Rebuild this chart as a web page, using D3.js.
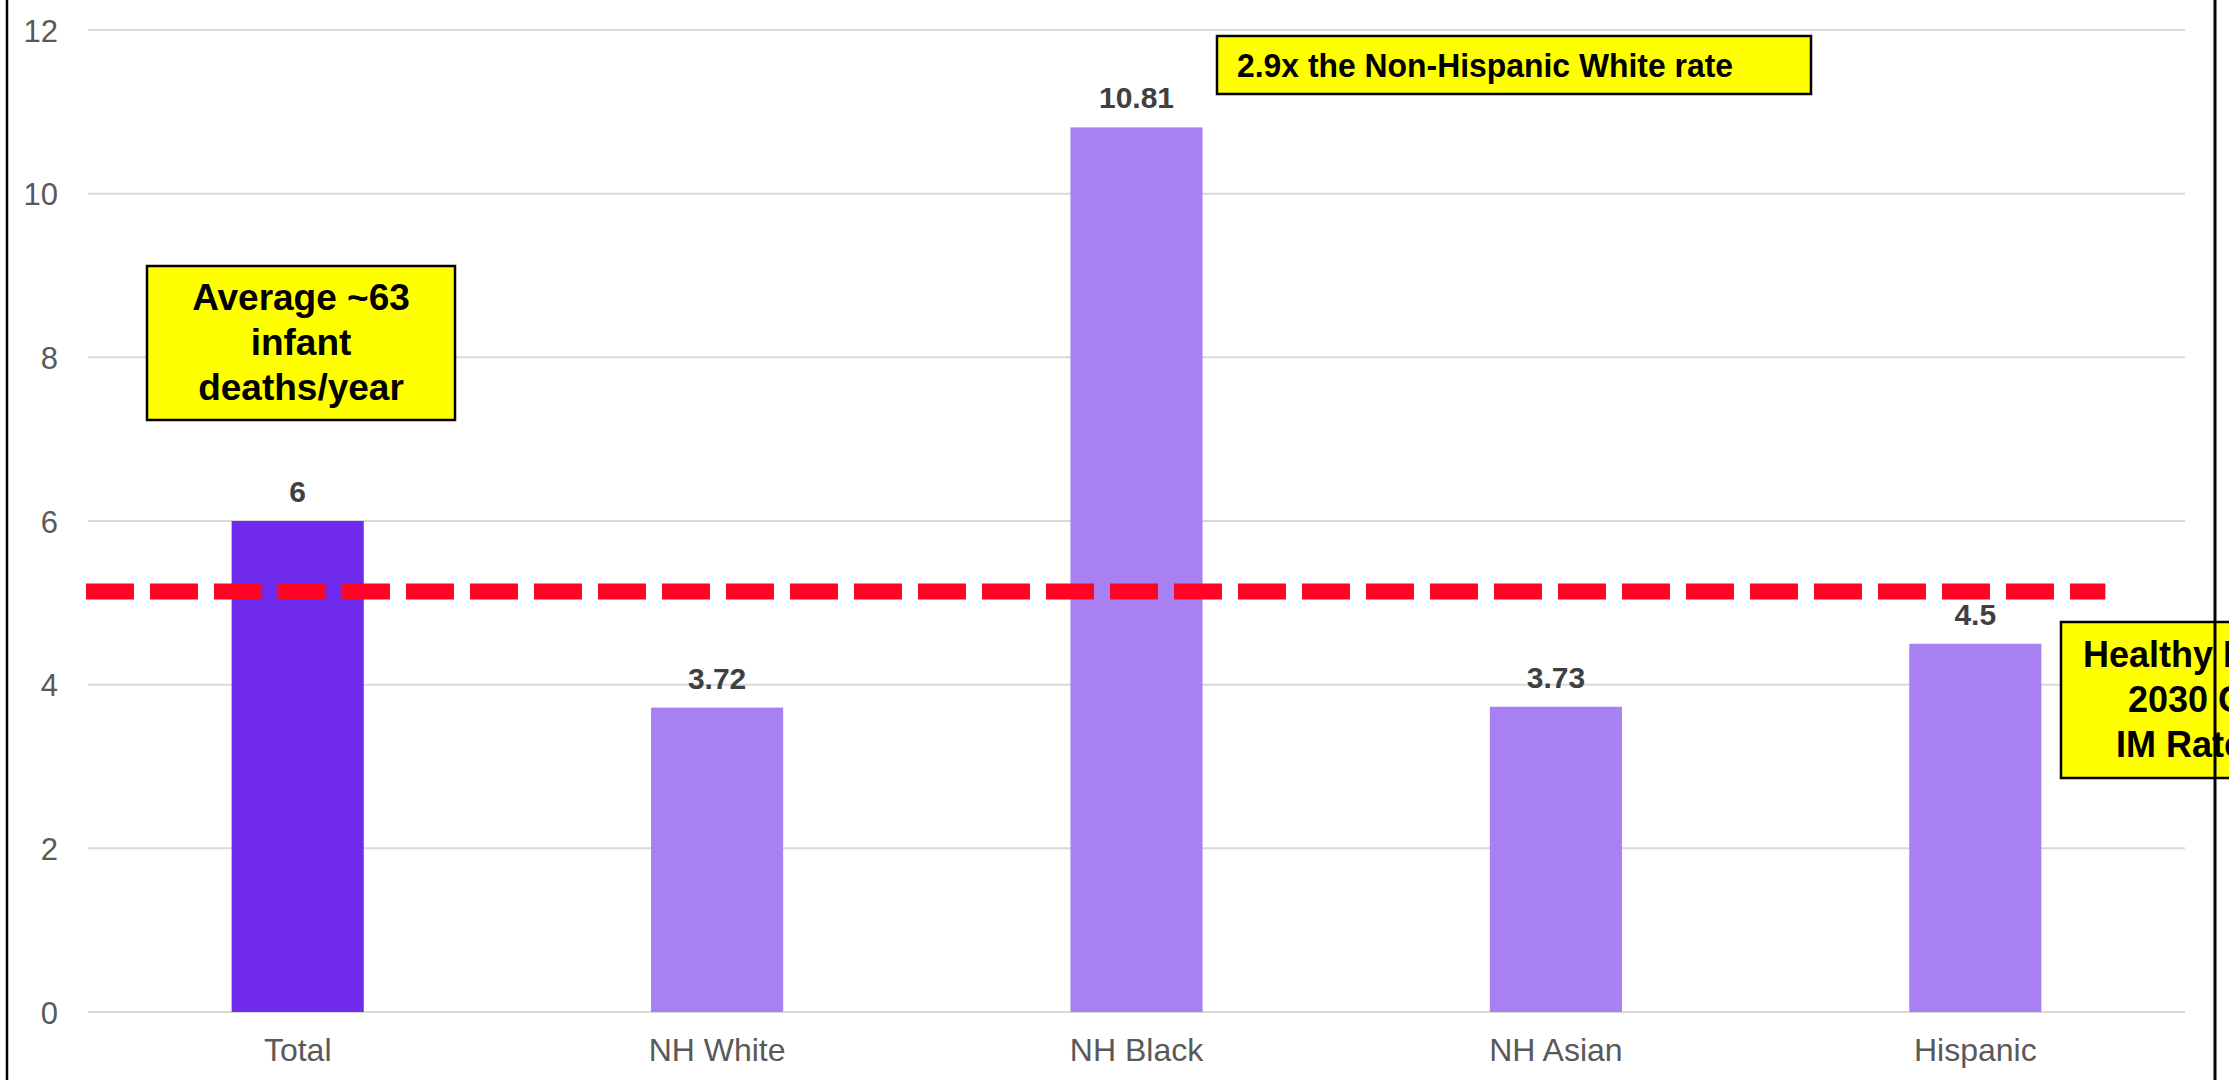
<!DOCTYPE html>
<html>
<head>
<meta charset="utf-8">
<script src="https://cdn.jsdelivr.net/npm/d3@7"></script>
<style>
  html, body { margin: 0; padding: 0; background: #fff; }
  svg { display: block; }
</style>
</head>
<body>
<svg id="chart" width="2229" height="1080"></svg>
<script>
// ---- data ----
const categories = ["Total", "NH White", "NH Black", "NH Asian", "Hispanic"];
const rates = [6, 3.72, 10.81, 3.73, 4.5];
const valueLabels = ["6", "3.72", "10.81", "3.73", "4.5"];
const barColors = ["#6F2AEB", "#A880F2", "#A880F2", "#A880F2", "#A880F2"];
const yTicks = [0, 2, 4, 6, 8, 10, 12];
const goalRate = 5.14;
const averageNote = ["Average ~63", "infant", "deaths/year"];
const ratioNote = "2.9x the Non-Hispanic White rate";
const goalNote = ["Healthy People", "2030 Goal", "IM Rate 5.0"];

// ---- layout ----
const W = 2229, H = 1080;
const plotLeft = 88, plotRight = 2185, plotTop = 30, plotBottom = 1012;
const svg = d3.select("#chart");
const sans = "'Liberation Sans', Arial, Helvetica, sans-serif";

const x = d3.scaleBand().domain(categories).range([plotLeft, plotRight])
  .paddingInner(0.685).paddingOuter(0.3425);
const y = d3.scaleLinear().domain([0, 12]).range([plotBottom, plotTop]);

// gridlines
svg.append("g").selectAll("line").data(yTicks).join("line")
  .attr("x1", plotLeft).attr("x2", plotRight)
  .attr("y1", d => y(d)).attr("y2", d => y(d))
  .attr("stroke", "#d9d9d9").attr("stroke-width", 2);

// y axis labels
const yAxis = d3.axisLeft(y).tickValues(yTicks).tickSize(0).tickPadding(0);
const gy = svg.append("g").attr("transform", `translate(${plotLeft - 30},0)`).call(yAxis);
gy.select(".domain").remove();
gy.selectAll("text").attr("font-family", sans).attr("font-size", 31)
  .attr("fill", "#595959").attr("dy", "0.36em");

// x axis labels
const xAxis = d3.axisBottom(x).tickSize(0).tickPadding(0);
const gx = svg.append("g").attr("transform", `translate(0,${plotBottom})`).call(xAxis);
gx.select(".domain").remove();
gx.selectAll("text").attr("font-family", sans).attr("font-size", 32)
  .attr("fill", "#595959").attr("dy", null).attr("y", 49);

// bars
svg.append("g").selectAll("rect").data(categories).join("rect")
  .attr("x", d => x(d)).attr("width", x.bandwidth())
  .attr("y", (d, i) => y(rates[i]))
  .attr("height", (d, i) => y(0) - y(rates[i]))
  .attr("fill", (d, i) => barColors[i]);

// value labels
svg.append("g").selectAll("text").data(categories).join("text")
  .attr("x", d => x(d) + x.bandwidth() / 2)
  .attr("y", (d, i) => y(rates[i]) - 19)
  .attr("text-anchor", "middle")
  .attr("font-family", sans).attr("font-size", 30).attr("font-weight", "bold")
  .attr("fill", "#404040")
  .text((d, i) => valueLabels[i]);

// goal dashed line
svg.append("line")
  .attr("x1", plotLeft - 2)
  .attr("x2", x("Hispanic") + x.bandwidth() + 64)
  .attr("y1", y(goalRate)).attr("y2", y(goalRate))
  .attr("stroke", "#FF0525").attr("stroke-width", 16)
  .attr("stroke-dasharray", "48 16");

// annotation boxes
function noteBox(bx, by, bw, bh) {
  svg.append("rect").attr("x", bx).attr("y", by).attr("width", bw).attr("height", bh)
    .attr("fill", "#FFFF00").attr("stroke", "#000").attr("stroke-width", 2.5);
}

// Average box
noteBox(147, 266, 308, 154);
svg.append("g").selectAll("text").data(averageNote).join("text")
  .attr("x", 301).attr("y", (d, i) => 310 + i * 45)
  .attr("text-anchor", "middle")
  .attr("font-family", sans).attr("font-size", 37).attr("font-weight", "bold")
  .attr("fill", "#000").text(d => d);

// Ratio box
noteBox(1217, 36, 594, 58);
svg.append("text").attr("x", 1237).attr("y", 77)
  .attr("font-family", "'Liberation Sans Narrow', 'Arial Narrow', " + sans)
  .attr("font-size", 33).attr("font-weight", "bold").attr("fill", "#000")
  .attr("textLength", 496).attr("lengthAdjust", "spacingAndGlyphs")
  .text(ratioNote);

// Goal box (runs off the right edge, as in the original slide)
noteBox(2061, 622, 302, 156);
const goalStarts = [2083, 2128, 2116];
svg.append("g").selectAll("text").data(goalNote).join("text")
  .attr("x", (d, i) => goalStarts[i]).attr("y", (d, i) => 667 + i * 45)
  .attr("font-family", sans).attr("font-size", 36).attr("font-weight", "bold")
  .attr("fill", "#000").text(d => d);

// frame lines
svg.append("line").attr("x1", 7).attr("x2", 7).attr("y1", 0).attr("y2", H)
  .attr("stroke", "#000").attr("stroke-width", 2.5);
svg.append("line").attr("x1", 2215).attr("x2", 2215).attr("y1", 0).attr("y2", H)
  .attr("stroke", "#000").attr("stroke-width", 3);
</script>
</body>
</html>
